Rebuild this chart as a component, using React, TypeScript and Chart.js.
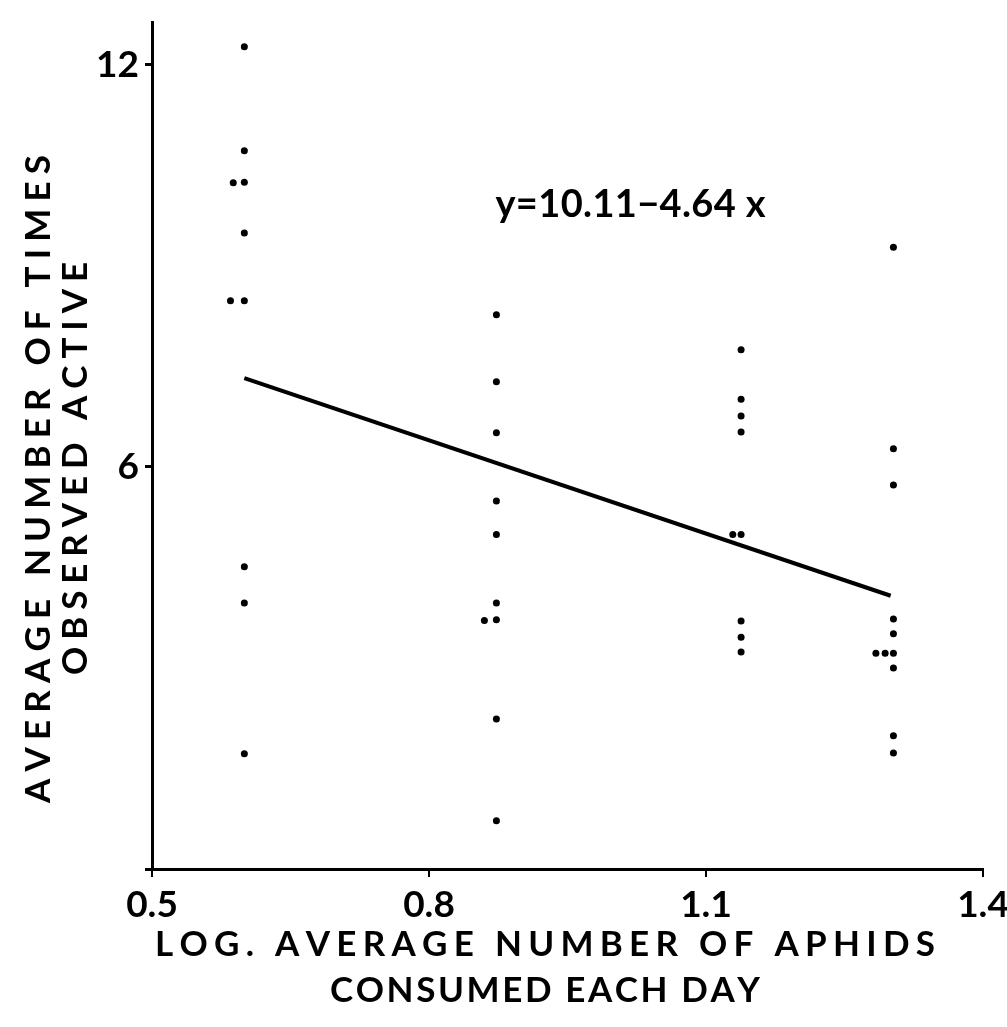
import React, { useEffect, useRef } from 'react';
import { Chart, registerables } from 'chart.js';

Chart.register(...registerables);

// Axis ticks
const xTickValues = [0.5, 0.8, 1.1, 1.4];
const xTickLabels = ['0.5', '0.8', '1.1', '1.4'];
const yTickValues = [0, 6, 12];
const yTickLabels = ['', '6', '12'];

// Observations: log mean aphids eaten per day vs mean times observed active
const pointX = [
  0.6, 0.6, 0.588, 0.6, 0.6, 0.585, 0.6, 0.6, 0.6, 0.6,
  0.873, 0.873, 0.873, 0.873, 0.873, 0.873, 0.86, 0.873, 0.873, 0.873,
  1.138, 1.138, 1.138, 1.138, 1.129, 1.138, 1.138, 1.138, 1.138,
  1.303, 1.303, 1.303, 1.303, 1.303, 1.284, 1.294, 1.303, 1.303, 1.303, 1.303,
];
const pointY = [
  12.27, 10.72, 10.24, 10.25, 9.49, 8.48, 8.48, 4.51, 3.97, 1.72,
  8.27, 7.27, 6.51, 5.49, 4.99, 3.97, 3.71, 3.72, 2.24, 0.72,
  7.75, 7.01, 6.76, 6.52, 4.99, 4.99, 3.7, 3.46, 3.24,
  9.28, 6.27, 5.73, 3.73, 3.51, 3.22, 3.22, 3.22, 3.0, 1.99, 1.73,
];

// Fitted regression y = a + b x, drawn over the observed x range
const interceptA = 10.11;
const slopeB = -4.64;
const lineX = [0.6, 1.3];
const equationLabel = 'y=10.11\u22124.64 x';

const xTitleLines = ['LOG. AVERAGE NUMBER OF APHIDS', 'CONSUMED EACH DAY'];
const yTitleLines = ['AVERAGE NUMBER OF TIMES', 'OBSERVED ACTIVE'];

const FONT = 'Lato, "DejaVu Sans", sans-serif';

// Draw text with evenly spread letters between start and end along the current x axis.
function drawSpread(ctx: CanvasRenderingContext2D, text: string, start: number, end: number, y: number) {
  const chars = Array.from(text);
  const widths = chars.map((c) => ctx.measureText(c).width);
  const natural = widths.reduce((a, b) => a + b, 0);
  const gap = chars.length > 1 ? (end - start - natural) / (chars.length - 1) : 0;
  let x = start;
  ctx.textAlign = 'left';
  ctx.textBaseline = 'middle';
  chars.forEach((c, i) => {
    ctx.fillText(c, x, y);
    x += widths[i] + gap;
  });
}

const labelPlugin = {
  id: 'labelPlugin',
  beforeDraw(chart: any) {
    const { ctx, width, height } = chart;
    ctx.save();
    ctx.fillStyle = '#fff';
    ctx.fillRect(0, 0, width, height);
    ctx.restore();
  },
  afterDraw(chart: any) {
    const { ctx } = chart;
    const xs = chart.scales.x;
    const ys = chart.scales.y;
    ctx.save();
    ctx.fillStyle = '#000';

    // x-axis title
    ctx.font = `bold 35px ${FONT}`;
    drawSpread(ctx, xTitleLines[0], 155, 935, 945);
    drawSpread(ctx, xTitleLines[1], 330, 760, 991);

    // y-axis title, rotated
    ctx.save();
    ctx.rotate(-Math.PI / 2);
    drawSpread(ctx, yTitleLines[0], -803, -155, 39);
    drawSpread(ctx, yTitleLines[1], -675, -262, 76);
    ctx.restore();

    // regression equation
    ctx.font = `bold 38px ${FONT}`;
    const ex = xs.getPixelForValue(0.872);
    const ey = ys.getPixelForValue(9.91);
    drawSpread(ctx, equationLabel, ex, ex + 270, ey);
    ctx.restore();
  },
};

export default function App() {
  const ref = useRef<HTMLCanvasElement | null>(null);

  useEffect(() => {
    if (!ref.current) return;
    const points = pointX.map((x, i) => ({ x, y: pointY[i] }));
    const fit = lineX.map((x) => ({ x, y: interceptA + slopeB * x }));
    const tickFont = { family: FONT, size: 37, weight: 'bold' as const };

    const chart = new Chart(ref.current, {
      type: 'scatter',
      data: {
        datasets: [
          {
            type: 'line',
            data: fit,
            borderColor: '#000',
            borderWidth: 4,
            pointRadius: 0,
            fill: false,
          } as any,
          {
            type: 'scatter',
            data: points,
            pointRadius: 3.5,
            backgroundColor: '#000',
            borderWidth: 0,
          },
        ],
      },
      options: {
        animation: false,
        responsive: false,
        maintainAspectRatio: false,
        layout: { padding: { left: 0, top: 22, right: 24, bottom: 0 } },
        plugins: { legend: { display: false }, tooltip: { enabled: false }, title: { display: false } },
        scales: {
          x: {
            type: 'linear',
            min: 0.5,
            max: 1.4,
            afterBuildTicks: (s: any) => {
              s.ticks = xTickValues.map((v) => ({ value: v }));
            },
            afterFit: (s: any) => {
              s.height = 158;
              s.paddingLeft = 0;
              s.paddingRight = 0;
            },
            ticks: {
              autoSkip: false,
              maxRotation: 0,
              padding: 6,
              color: '#000',
              font: tickFont,
              callback: (_v: any, i: number) => xTickLabels[i],
            },
            grid: { display: true, drawOnChartArea: false, drawTicks: true, tickLength: 8, color: '#000', lineWidth: 2 },
            border: { display: true, color: '#000', width: 3 },
          },
          y: {
            type: 'linear',
            min: 0,
            max: 12.64,
            afterBuildTicks: (s: any) => {
              s.ticks = yTickValues.map((v) => ({ value: v }));
            },
            afterFit: (s: any) => {
              s.width = 152;
              s.paddingTop = 0;
              s.paddingBottom = 0;
            },
            ticks: {
              autoSkip: false,
              padding: 6,
              color: '#000',
              font: tickFont,
              callback: (_v: any, i: number) => yTickLabels[i],
            },
            grid: { display: true, drawOnChartArea: false, drawTicks: true, tickLength: 7, color: '#000', lineWidth: 3 },
            border: { display: true, color: '#000', width: 3 },
          },
        },
      },
      plugins: [labelPlugin],
    });
    return () => chart.destroy();
  }, []);

  return (
    <div style={{ position: 'absolute', left: 0, top: 0, width: 1007, height: 1027 }}>
      <canvas ref={ref} width={1007} height={1027} style={{ display: 'block' }} />
    </div>
  );
}
